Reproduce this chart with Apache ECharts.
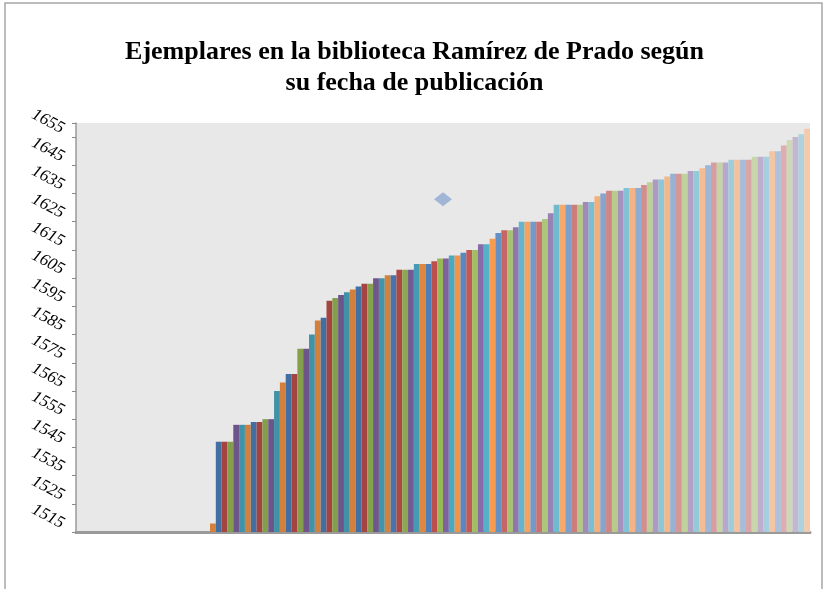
<!DOCTYPE html>
<html><head><meta charset="utf-8">
<script src="https://cdn.jsdelivr.net/npm/echarts@6/dist/echarts.min.js"></script>
<style>html,body{margin:0;padding:0;background:#fff}#c{width:829px;height:589px}</style>
</head><body><div id="c"></div>
<script>
// ---- data ----
const titleLines = ['Ejemplares en la biblioteca Ramírez de Prado según', 'su fecha de publicación'];
const yMin = 1515, yMax = 1660, yStep = 10;
const hiddenCount = 23; // series whose bars are not visible in the picture
const years = [
  1518, 1547, 1547, 1547, 1553, 1553, 1553, 1554, 1554, 1555, 1555, 1565, 1568, 1571, 1571, 1580, 1580, 1585, 1590, 1591, 1597, 1598, 1599, 1600,
  1601, 1602, 1603, 1603, 1605, 1605, 1606, 1606, 1608, 1608, 1608, 1610, 1610, 1610, 1611, 1612, 1612, 1613, 1613, 1614, 1615, 1615, 1617, 1617, 1619,
  1621, 1622, 1622, 1623, 1625, 1625, 1625, 1625, 1626, 1628, 1631, 1631, 1631, 1631, 1631, 1632, 1632, 1634, 1635, 1636, 1636, 1636, 1637, 1637, 1637, 1638,
  1639, 1640, 1640, 1641, 1642, 1642, 1642, 1643, 1643, 1644, 1645, 1646, 1646, 1646, 1647, 1647, 1647, 1647, 1648, 1648, 1648, 1650, 1650, 1652, 1654, 1655, 1656, 1658
];
const markerCategory = ['Media'];
const markerValue = [1633];

// ---- styling helpers ----
const accents = ['#4F81BD', '#C0504D', '#9BBB59', '#8064A2', '#4BACC6', '#F79646'];
// shade (<0) / tint (>0) per colour cycle of six series
const cycleTint = [-0.15, -0.15, -0.15, -0.15, -0.15, -0.15, -0.15, -0.15, -0.14, -0.1, -0.02, 0.06, 0.14, 0.22, 0.28, 0.34, 0.4, 0.45, 0.5, 0.55, 0.6];
function adjust(hex, f) {
  const n = parseInt(hex.slice(1), 16);
  const rgb = [(n >> 16) & 255, (n >> 8) & 255, n & 255];
  const target = [238, 236, 240];
  const out = rgb.map((c, k) => f < 0 ? Math.round(c * (1 + f)) : Math.round(c + (target[k] - c) * f));
  return 'rgb(' + out.join(',') + ')';
}
function seriesColor(i) {
  return adjust(accents[i % 6], cycleTint[Math.min(Math.floor(i / 6), cycleTint.length - 1)]);
}

const values = new Array(hiddenCount).fill(null).concat(years);
const categories = values.map((_, i) => 'Serie' + (i + 1));
const barData = values.map((v, i) => ({ value: v, itemStyle: { color: seriesColor(i) } }));

const chart = echarts.init(document.getElementById('c'), null, { renderer: 'canvas' });
chart.setOption({
  animation: false,
  title: {
    text: titleLines.join('\n'), left: 'center', top: 32,
    textStyle: { fontFamily: 'Liberation Serif', fontWeight: 'bold', fontSize: 26, lineHeight: 31, color: '#000' }
  },
  grid: { left: 76, right: 19, top: 123, bottom: 57, show: true, backgroundColor: '#e8e8e8', borderWidth: 0 },
  xAxis: [
    { type: 'category', data: categories, axisLine: { lineStyle: { color: '#9a9a9a', width: 3 } },
      axisTick: { show: false }, axisLabel: { show: false }, splitLine: { show: false } },
    { type: 'category', data: markerCategory, show: false, position: 'bottom' }
  ],
  yAxis: {
    type: 'value', min: yMin, max: yMax, interval: yStep,
    axisLine: { show: true, lineStyle: { color: '#9a9a9a', width: 1.5 } },
    axisTick: { show: true, length: 4, lineStyle: { color: '#888' } },
    splitLine: { show: false },
    axisLabel: {
      rotate: -28, margin: 17, verticalAlign: 'bottom',
      fontFamily: 'Liberation Serif', fontStyle: 'italic', fontSize: 17, color: '#000',
      formatter: v => ((v - yMin) % yStep === 0 && v < yMax ? String(v) : '')
    }
  },
  series: [
    { type: 'bar', data: barData, barCategoryGap: '0%', barGap: '0%' },
    { type: 'scatter', xAxisIndex: 1, data: markerValue, symbol: 'diamond', symbolSize: [18, 14],
      itemStyle: { color: '#8ea7d1' } }
  ],
  graphic: [{ type: 'rect', silent: true, shape: { x: 5, y: 3, width: 817, height: 600 },
    style: { fill: null, stroke: '#a6a6a6', lineWidth: 1.5 } }]
});
</script></body></html>
